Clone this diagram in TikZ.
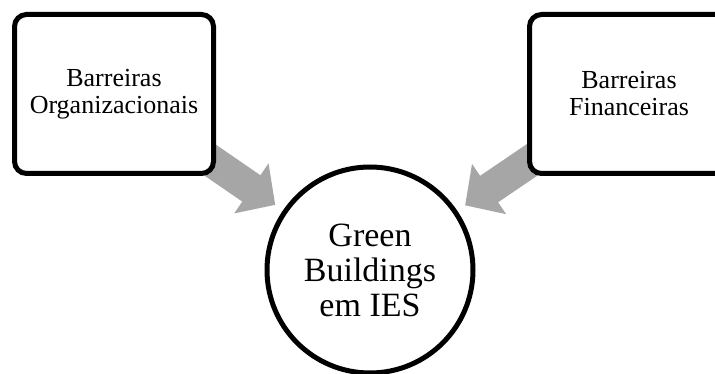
\documentclass[tikz,border=0pt]{standalone}
\usepackage{fontspec}
\setmainfont{Liberation Serif}
\usetikzlibrary{positioning,arrows.meta,backgrounds}

\definecolor{arrowgray}{RGB}{166,166,166}

\begin{document}
\begin{tikzpicture}[x=1pt,y=-1pt,
  barrier/.style={draw,line width=5pt,rounded corners=12pt,fill=white,
    minimum width=199pt,minimum height=159pt,align=center,
    font=\fontsize{26}{27}\selectfont},
  goal/.style={draw,circle,line width=5pt,fill=white,minimum size=206pt,
    align=center,font=\fontsize{34}{35}\selectfont},
  push/.style={arrowgray,line width=32pt,shorten >=115pt,
    -{Triangle[length=29pt,width=59pt]}}]
  \useasboundingbox (0,0) rectangle (715,374);
  \clip (0,0) rectangle (715,374);
  \node[barrier] (org) at (114,94) {Barreiras\\Organizacionais};
  \node[barrier] (fin) at (629,94) {Barreiras\\Financeiras};
  \node[goal] (gb) at (370,270) {Green\\Buildings\\em IES};
  \begin{pgfonlayer}{background}
    \draw[push] (org.center) -- (gb.center);
    \draw[push] (fin.center) -- (gb.center);
  \end{pgfonlayer}
\end{tikzpicture}
\end{document}
